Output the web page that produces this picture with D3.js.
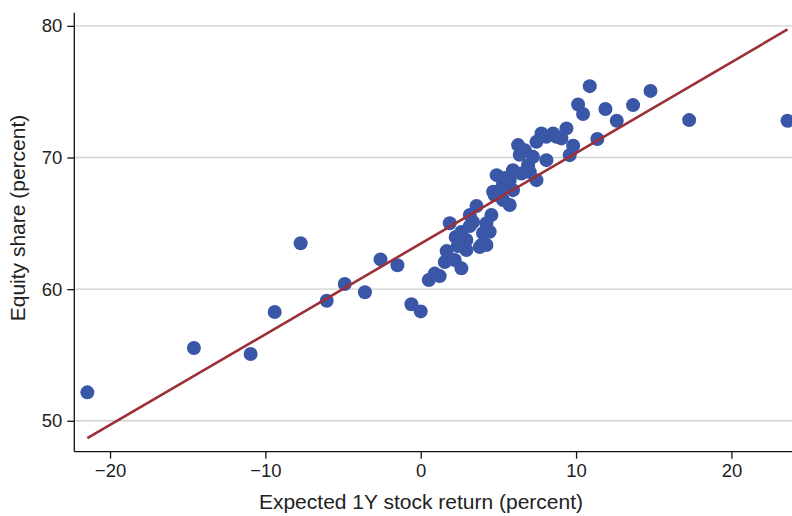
<!DOCTYPE html>
<html>
<head>
<meta charset="utf-8">
<script src="https://cdn.jsdelivr.net/npm/d3@7"></script>
<style>
  html, body { margin: 0; padding: 0; background: #fff; }
  svg { display: block; }
  text { font-family: "Liberation Sans", Arial, Helvetica, sans-serif; fill: #222; }
</style>
</head>
<body>
<svg id="chart" width="792" height="516"></svg>
<script>
// Expected one-year stock return vs. equity share, both in percent
const expectedReturn = [
  -21.46, -14.60, -10.95, -9.40, -7.73, -6.05, -4.89, -3.59, -2.59, -1.50,
  -0.60, 0.00, 0.52, 0.90, 1.22, 1.55, 1.67, 1.87, 2.19, 2.25,
  2.62, 2.62, 2.94, 2.94, 3.16, 3.37, 3.59, 3.91, 4.23, 4.01,
  4.44, 4.23, 4.55, 4.76, 5.30, 5.73, 4.89, 5.30, 4.66, 5.94,
  5.73, 5.94, 6.27, 6.70, 6.91, 6.48, 7.23, 7.45, 7.45, 7.77,
  8.09, 8.09, 8.52, 8.74, 9.06, 9.38, 9.59, 9.81, 10.13, 10.45,
  10.88, 11.37, 11.89, 12.62, 13.67, 14.79, 17.28, 23.61, 2.38, 3.80,
  3.16, 5.09, 5.41, 7.02, 6.37
];
const equityShare = [
  52.16, 55.53, 55.07, 58.26, 63.48, 59.12, 60.39, 59.76, 62.26, 61.81,
  58.85, 58.31, 60.69, 61.18, 60.99, 62.06, 62.89, 65.00, 62.21, 63.96,
  61.58, 64.34, 63.73, 62.97, 65.63, 65.10, 66.31, 63.35, 63.35, 64.26,
  64.36, 65.00, 65.63, 67.15, 66.77, 66.39, 68.66, 67.98, 67.40, 67.52,
  68.28, 69.04, 70.94, 70.56, 69.42, 68.79, 70.05, 68.28, 71.19, 71.83,
  71.57, 69.80, 71.83, 71.57, 71.45, 72.21, 70.18, 70.89, 74.03, 73.30,
  75.42, 71.40, 73.68, 72.79, 73.98, 75.06, 72.84, 72.79, 63.27, 63.20,
  64.79, 67.52, 68.44, 68.89, 70.20
];

// Fitted line: equity share = intercept + slope * expected return
const fitIntercept = 63.46;
const fitSlope = 0.689;

const xTicks = [-20, -10, 0, 10, 20];
const yTicks = [50, 60, 70, 80];

const xTitle = "Expected 1Y stock return (percent)";
const yTitle = "Equity share (percent)";

const svg = d3.select("#chart");
const plot = { left: 74.3, right: 792, top: 12.7, bottom: 451.7 };

const x = d3.scaleLinear().domain([-22.3, 23.9]).range([plot.left, plot.right]);
const y = d3.scaleLinear().domain([47.65, 81.0]).range([plot.bottom, plot.top]);

// horizontal grid
svg.append("g")
  .selectAll("line")
  .data(yTicks)
  .join("line")
  .attr("x1", plot.left).attr("x2", plot.right)
  .attr("y1", d => y(d)).attr("y2", d => y(d))
  .attr("stroke", "#cfcfcf").attr("stroke-width", 1.3);

// points
const pts = expectedReturn.map((v, i) => ({ x: v, y: equityShare[i] }));
svg.append("g")
  .selectAll("circle")
  .data(pts)
  .join("circle")
  .attr("cx", d => x(d.x))
  .attr("cy", d => y(d.y))
  .attr("r", 7)
  .attr("fill", "#3a56a7");

// fitted line across the range of the data
const xMin = d3.min(expectedReturn), xMax = d3.max(expectedReturn);
svg.append("line")
  .attr("x1", x(xMin)).attr("y1", y(fitIntercept + fitSlope * xMin))
  .attr("x2", x(xMax)).attr("y2", y(fitIntercept + fitSlope * xMax))
  .attr("stroke", "#9c2f38").attr("stroke-width", 2.6);

// axes
const xAxis = d3.axisBottom(x).tickValues(xTicks).tickSize(7).tickPadding(5).tickFormat(d3.format("d"));
const gx = svg.append("g").attr("transform", `translate(0,${plot.bottom})`).call(xAxis);
gx.select(".domain").remove();
gx.append("line").attr("x1", plot.left).attr("x2", plot.right)
  .attr("stroke", "#111").attr("stroke-width", 1.3);
gx.selectAll(".tick line").attr("stroke", "#111").attr("stroke-width", 1.3);
gx.selectAll(".tick text").attr("font-size", 18.5).style("fill", "#222");

const yAxis = d3.axisLeft(y).tickValues(yTicks).tickSize(7).tickPadding(5).tickFormat(d3.format("d"));
const gy = svg.append("g").attr("transform", `translate(${plot.left},0)`).call(yAxis);
gy.select(".domain").remove();
gy.append("line").attr("y1", plot.top).attr("y2", plot.bottom)
  .attr("stroke", "#111").attr("stroke-width", 1.3);
gy.selectAll(".tick line").attr("stroke", "#111").attr("stroke-width", 1.3);
gy.selectAll(".tick text").attr("font-size", 18.5).style("fill", "#222");

// titles
svg.append("text")
  .attr("x", 421).attr("y", 509)
  .attr("text-anchor", "middle")
  .attr("font-size", 21)
  .text(xTitle);

svg.append("text")
  .attr("transform", `translate(25,218) rotate(-90)`)
  .attr("text-anchor", "middle")
  .attr("font-size", 21)
  .text(yTitle);
</script>
</body>
</html>
